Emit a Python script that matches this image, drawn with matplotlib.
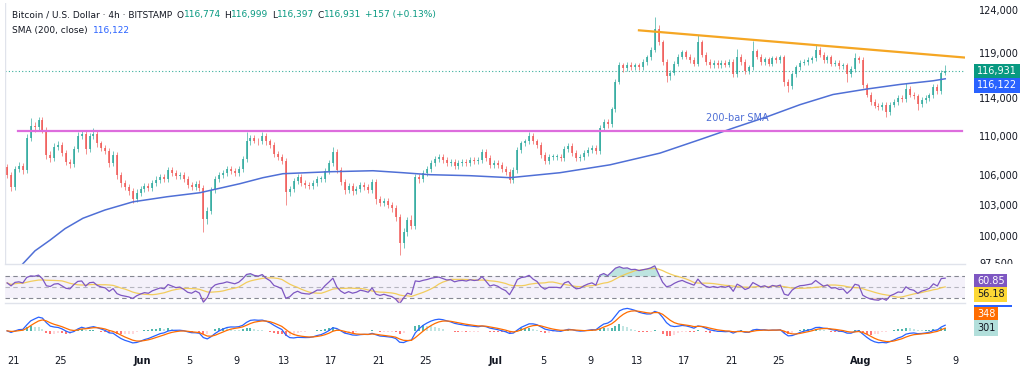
import numpy as np
import pandas as pd
import matplotlib
matplotlib.use("Agg")
import matplotlib.pyplot as plt
from matplotlib.transforms import Bbox, TransformedBbox
from matplotlib.patches import Rectangle

# ---------------- data ----------------
# 8-hour candles; time in days since 2025-05-20 00:00 (first bar May 20 12:00)
first_bar_day = 0.5
bar_days = 1 / 3
first_open = 106.8  # thousand USD

close = [
    106.0, 104.8, 106.6, 106.9, 106.5, 109.8, 111.0, 110.9, 111.7, 110.6,
    108.0, 107.7, 108.8, 109.0, 108.2, 107.3, 107.1, 108.6, 110.0, 110.2,
    108.6, 110.0, 110.2, 109.2, 108.7, 108.4, 107.2, 108.0, 106.0, 105.2,
    104.8, 104.4, 103.6, 104.2, 104.6, 104.9, 104.7, 105.2, 105.5, 105.8,
    105.6, 106.5, 106.2, 105.9, 106.0, 105.6, 105.0, 104.8, 105.1, 104.7,
    101.6, 102.4, 104.5, 105.6, 106.0, 106.2, 106.6, 106.4, 106.2, 106.6,
    107.6, 109.4, 109.8, 109.5, 109.4, 110.0, 109.4, 109.0, 108.1, 107.8,
    107.4, 104.3, 104.6, 105.4, 105.8, 105.2, 105.0, 104.9, 105.2, 105.6,
    105.6, 106.4, 107.2, 108.3, 106.5, 105.3, 104.5, 104.9, 104.4, 104.6,
    105.0, 104.8, 104.5, 105.3, 103.6, 103.2, 103.4, 103.0, 102.7, 101.8,
    99.3, 100.4, 101.5, 101.0, 105.8, 105.6, 106.2, 106.6, 107.2, 107.6,
    107.8, 107.5, 107.2, 107.3, 106.9, 107.2, 107.3, 107.2, 107.5, 107.4,
    107.5, 108.3, 107.7, 107.0, 107.2, 107.0, 106.6, 106.3, 105.5, 106.5,
    108.5, 109.2, 109.4, 110.0, 109.4, 109.0, 108.0, 107.4, 107.8, 107.8,
    107.8, 107.7, 108.6, 108.9, 108.2, 107.7, 107.8, 108.2, 108.5, 108.7,
    108.4, 110.8, 111.5, 111.2, 112.8, 115.8, 117.6, 117.3, 117.7, 117.4,
    117.6, 117.4, 118.0, 118.5, 119.4, 121.8, 120.2, 118.0, 116.4, 116.8,
    117.8, 118.6, 119.1, 118.6, 118.2, 117.8, 120.2, 118.8, 118.0, 117.6,
    117.9, 117.6, 117.9, 117.7, 118.0, 116.6, 118.6, 118.0, 117.0, 117.4,
    119.2, 118.6, 118.0, 118.3, 117.8, 118.4, 118.2, 118.5, 115.8, 115.3,
    116.6, 117.4, 117.9, 118.0, 118.2, 118.4, 119.4, 118.8, 118.2, 118.5,
    117.8, 117.9, 117.5, 117.6, 116.6, 117.2, 118.4, 118.2, 115.4, 114.4,
    113.6, 113.2, 113.0, 113.3, 112.5, 113.3, 113.6, 114.0, 113.9, 115.0,
    114.4, 114.2, 113.4, 113.8, 114.0, 114.3, 115.2, 114.8, 116.8, 116.931,
]

wick_up = [
    0.3, 0.3, 0.3, 0.4, 0.3, 0.4, 0.9, 0.4, 0.3, 0.3,
    0.3, 0.4, 0.4, 0.4, 0.3, 0.3, 0.3, 0.3, 0.4, 0.3,
    0.3, 0.3, 0.6, 0.3, 0.3, 0.3, 0.3, 0.4, 0.3, 0.3,
    0.3, 0.3, 0.3, 0.4, 0.3, 0.3, 0.3, 0.3, 0.4, 0.3,
    0.3, 0.3, 0.3, 0.3, 0.3, 0.3, 0.3, 0.3, 0.3, 0.4,
    0.3, 0.4, 0.3, 0.3, 0.3, 0.3, 0.3, 0.3, 0.3, 0.3,
    0.3, 1.0, 0.3, 0.3, 0.3, 0.4, 0.3, 0.3, 0.3, 0.3,
    0.3, 0.3, 0.3, 0.3, 0.3, 0.3, 0.3, 0.3, 0.3, 0.3,
    0.3, 0.3, 0.3, 0.5, 0.3, 0.3, 0.3, 0.3, 0.3, 0.3,
    0.3, 0.3, 0.3, 0.3, 0.3, 0.3, 0.3, 0.3, 0.3, 0.3,
    0.3, 0.4, 0.3, 0.5, 0.3, 0.3, 0.3, 0.3, 0.3, 0.3,
    0.3, 0.3, 0.3, 0.3, 0.3, 0.3, 0.3, 0.3, 0.3, 0.3,
    0.3, 0.3, 0.3, 0.3, 0.3, 0.3, 0.3, 0.3, 0.3, 0.3,
    0.3, 0.3, 0.3, 0.4, 0.3, 0.3, 0.3, 0.3, 0.3, 0.3,
    0.3, 0.3, 0.3, 0.3, 0.3, 0.3, 0.3, 0.3, 0.3, 0.3,
    0.3, 0.3, 0.3, 0.3, 0.3, 0.3, 0.4, 0.3, 0.3, 0.3,
    0.3, 0.3, 0.3, 0.3, 0.3, 1.4, 0.4, 0.3, 0.3, 0.3,
    0.3, 0.3, 0.3, 0.3, 0.3, 0.3, 0.9, 0.3, 0.3, 0.3,
    0.3, 0.3, 0.3, 0.3, 0.3, 0.3, 0.9, 0.3, 0.3, 0.3,
    1.2, 0.3, 0.3, 0.3, 0.3, 0.3, 0.3, 0.3, 0.3, 0.3,
    0.3, 0.3, 0.3, 0.3, 0.3, 0.3, 0.5, 0.3, 0.3, 0.3,
    0.3, 0.3, 0.3, 0.3, 0.3, 0.3, 0.6, 0.3, 0.3, 0.3,
    0.3, 0.3, 0.3, 0.3, 0.3, 0.3, 0.3, 0.3, 0.3, 0.7,
    0.3, 0.3, 0.3, 0.3, 0.3, 0.3, 0.3, 0.3, 0.3, 0.7,
]

wick_dn = [
    0.3, 0.4, 0.3, 0.3, 0.4, 0.3, 0.3, 0.5, 0.3, 0.3,
    0.4, 0.4, 0.3, 0.3, 0.3, 0.3, 0.4, 0.3, 0.3, 0.3,
    0.5, 0.3, 0.3, 0.4, 0.3, 0.3, 0.4, 0.3, 0.4, 0.4,
    0.3, 0.4, 0.4, 0.3, 0.3, 0.3, 0.3, 0.3, 0.3, 0.3,
    0.3, 0.3, 0.3, 0.3, 0.3, 0.3, 0.3, 0.3, 0.3, 0.3,
    1.2, 0.5, 0.3, 0.3, 0.3, 0.3, 0.3, 0.3, 0.3, 0.3,
    0.3, 0.3, 0.4, 0.3, 0.4, 0.3, 0.4, 0.3, 0.3, 0.3,
    0.3, 1.3, 0.4, 0.3, 0.3, 0.3, 0.3, 0.3, 0.3, 0.3,
    0.3, 0.3, 0.3, 0.3, 0.3, 0.3, 0.4, 0.3, 0.4, 0.3,
    0.3, 0.3, 0.3, 0.3, 0.5, 0.3, 0.3, 0.3, 0.4, 0.4,
    1.1, 0.4, 0.4, 0.3, 0.3, 0.4, 0.3, 0.3, 0.3, 0.3,
    0.3, 0.3, 0.3, 0.3, 0.3, 0.3, 0.3, 0.3, 0.3, 0.3,
    0.3, 0.3, 0.3, 0.3, 0.3, 0.3, 0.3, 0.3, 0.3, 0.3,
    0.3, 0.3, 0.3, 0.3, 0.3, 0.3, 0.3, 0.3, 0.3, 0.3,
    0.3, 0.3, 0.3, 0.3, 0.3, 0.3, 0.3, 0.3, 0.3, 0.3,
    0.3, 0.3, 0.3, 0.4, 0.3, 0.3, 0.3, 0.4, 0.3, 0.3,
    0.3, 0.3, 0.3, 0.3, 0.3, 0.3, 0.3, 0.4, 0.6, 0.4,
    0.3, 0.3, 0.3, 0.3, 0.3, 0.3, 0.3, 0.3, 0.3, 0.3,
    0.3, 0.3, 0.3, 0.3, 0.3, 0.3, 0.3, 0.3, 0.3, 0.3,
    0.3, 0.3, 0.3, 0.3, 0.3, 0.3, 0.3, 0.3, 0.5, 0.6,
    0.3, 0.3, 0.3, 0.3, 0.3, 0.3, 0.3, 0.3, 0.3, 0.3,
    0.3, 0.3, 0.3, 0.3, 0.8, 0.3, 0.3, 0.3, 0.3, 0.3,
    0.3, 0.3, 0.3, 0.3, 0.5, 0.3, 0.3, 0.3, 0.3, 0.3,
    0.3, 0.3, 0.7, 0.3, 0.3, 0.3, 0.3, 0.3, 0.3, 0.3,
]

# 200-bar SMA (day, thousand USD)
sma_day = [0.49, 1.76, 2.87, 4.14, 5.42, 6.94, 8.81, 11.19, 14.08, 16.88, 20.28,
           22.23, 23.93, 27.92, 31.57, 34.12, 36.41, 39.81, 43.21, 47.45, 51.70,
           55.95, 59.34, 62.15, 65.03, 67.84, 70.64, 73.53, 76.33, 79.13, 80.17]
sma_val = [96.1, 97.3, 98.6, 99.6, 100.7, 101.7, 102.5, 103.3, 103.8, 104.2, 105.1,
           105.7, 106.1, 106.3, 106.4, 106.2, 106.0, 105.9, 105.7, 106.2, 107.0,
           108.2, 109.6, 110.8, 112.0, 113.3, 114.4, 115.0, 115.5, 115.9, 116.122]

support_level = 110.5
support_days = [1.42, 81.6]
resist_days = [54.16, 81.76]
resist_vals = [121.6, 118.5]

price_ticks = [97500, 100000, 103000, 106000, 110000, 114000, 119000, 124000]
x_tick_days = [1, 5, 12, 16, 20, 24, 28, 32, 36, 42, 46, 50, 54, 58, 62, 66, 73, 77, 81]
x_tick_labels = ['21', '25', 'Jun', '5', '9', '13', '17', '21', '25', 'Jul',
                 '5', '9', '13', '17', '21', '25', 'Aug', '5', '9']
month_labels = ['Jun', 'Jul', 'Aug']

header_title = "Bitcoin / U.S. Dollar · 4h · BITSTAMP"
ohlc_text = [("O", "116,774"), ("H", "116,999"), ("L", "116,397"), ("C", "116,931")]
change_text = "+157 (+0.13%)"
last_price = 116931
sma_last = 116122
rsi_last, rsi_ma_last = 60.85, 56.18
macd_last, signal_last, hist_last = 648, 348, 301

# ---------------- computations ----------------
c = np.array(close) * 1000.0
o = np.concatenate([[first_open * 1000.0], c[:-1]])
hi = np.maximum(o, c) + np.array(wick_up) * 1000.0
lo = np.minimum(o, c) - np.array(wick_dn) * 1000.0
n = len(c)
t = first_bar_day + bar_days * np.arange(n)

def wilder_rsi(x, p):
    d = np.diff(x)
    up = np.where(d > 0, d, 0.0)
    dn = np.where(d < 0, -d, 0.0)
    ag = np.empty(len(x)); al = np.empty(len(x))
    ag[0] = up[:p].mean(); al[0] = dn[:p].mean()
    for i in range(1, len(x)):
        ag[i] = (ag[i - 1] * (p - 1) + up[i - 1]) / p
        al[i] = (al[i - 1] * (p - 1) + dn[i - 1]) / p
    return 100 - 100 / (1 + ag / np.maximum(al, 1e-9))

rsi = wilder_rsi(c, 10)
rsi_ma = pd.Series(rsi).rolling(10, min_periods=1).mean().values
cs = pd.Series(c)
macd = (cs.ewm(span=6, adjust=False).mean() - cs.ewm(span=13, adjust=False).mean()).values
sig = pd.Series(macd).ewm(span=4.5, adjust=False).mean().values
hist = macd - sig

# ---------------- figure ----------------
W, H = 1024, 376
fig = plt.figure(figsize=(W / 100, H / 100), dpi=100, facecolor='white')
plt.rcParams['font.family'] = ['DejaVu Sans']

def px_axes(top, bottom, left=5, right=965):
    return fig.add_axes([left / W, 1 - bottom / H, (right - left) / W, (bottom - top) / H])

ax = px_axes(3, 264)
ax_r = px_axes(264, 303)
ax_m = px_axes(303, 348)
xlim = (0.3206, 81.85)

TXT = '#131722'
GREEN = '#089981'
up_col, dn_col = '#26a69a', '#ef5350'

# candles
cols = np.where(c >= o, up_col, dn_col)
ax.vlines(t, lo, hi, colors=cols, lw=0.6, alpha=0.75, zorder=2)
body_bottom = np.minimum(o, c)
body_h = np.maximum(np.abs(c - o), 60)
ax.bar(t, body_h, bottom=body_bottom, width=0.17, color=cols, alpha=0.75, zorder=3, linewidth=0)

# SMA
ax.plot(sma_day, np.array(sma_val) * 1000, color='#4f6fd6', lw=1.1, zorder=4)
ax.text(59.85, 111900, "200-bar SMA", color='#4f6fd6', fontsize=7, ha='left', va='center')

# support / resistance
ax.plot(support_days, [support_level * 1000] * 2, color='#dd6ddd', lw=1.6, zorder=4)
ax.plot(resist_days, np.array(resist_vals) * 1000, color='#f5a623', lw=1.6, zorder=4)

# last price dotted line
ax.axhline(last_price, color=GREEN, lw=0.8, ls=(0, (1, 2)), zorder=1, alpha=0.8)

ax.set_yscale('log')
ax.set_ylim(97370, 124800)
ax.set_xlim(*xlim)
ax.yaxis.tick_right()
ax.set_yticks(price_ticks)
ax.set_yticklabels([f"{v:,}" for v in price_ticks])
ax.yaxis.set_minor_locator(matplotlib.ticker.NullLocator())
ax.tick_params(axis='y', length=0, pad=10, labelsize=7, labelcolor=TXT)
ax.set_xticks([])
main_clip = TransformedBbox(Bbox([[0, 1 - 264 / H], [1, 1]]), fig.transFigure)
for lab in ax.get_yticklabels():
    lab.set_clip_box(main_clip)
    lab.set_clip_on(True)

# RSI
ax_r.axhspan(30, 70, color='#7e57c2', alpha=0.08, lw=0)
for lvl, a in [(70, 0.9), (50, 0.5), (30, 0.9)]:
    ax_r.axhline(lvl, color='#787b86', lw=0.8, ls=(0, (4, 3)), alpha=a)
ax_r.fill_between(t, 70, rsi, where=rsi > 70, interpolate=True, color='#26a69a', alpha=0.3, lw=0)
ax_r.fill_between(t, 30, rsi, where=rsi < 30, interpolate=True, color='#ef5350', alpha=0.3, lw=0)
ax_r.plot(t, rsi_ma, color='#f2c94c', lw=0.9, alpha=0.9)
ax_r.plot(t, rsi, color='#7e57c2', lw=0.9)
ax_r.set_ylim(20.5, 93)
ax_r.set_xlim(*xlim)
ax_r.set_xticks([]); ax_r.set_yticks([])

# MACD
pc = np.concatenate([[hist[0]], hist[:-1]])
hcols = np.where(hist >= 0, np.where(hist >= pc, '#26a69a', '#b2dfdb'),
                 np.where(hist < pc, '#ff5252', '#ffcdd2'))
ax_m.bar(t, hist, width=0.17, color=hcols, lw=0, alpha=0.8)
ax_m.plot(t, macd, color='#2962ff', lw=0.9)
ax_m.plot(t, sig, color='#ff6d00', lw=0.9)
ax_m.set_ylim(-1850, 3000)
ax_m.set_xlim(*xlim)
ax_m.set_yticks([])
ax_m.set_xticks(x_tick_days)
ax_m.set_xticklabels(x_tick_labels)
ax_m.tick_params(axis='x', length=0, pad=6, labelsize=7, labelcolor=TXT)
for lab in ax_m.get_xticklabels():
    if lab.get_text() in month_labels:
        lab.set_fontweight('bold')

for a in (ax, ax_r, ax_m):
    for s in a.spines.values():
        s.set_visible(False)
for a in (ax_r, ax_m):
    a.spines['top'].set_visible(True)
    a.spines['top'].set_color('#e0e3eb')
    a.spines['top'].set_linewidth(1.0)
ax.axvline(xlim[0], color='#e0e3eb', lw=1)

# chained coloured text
def chain(x_px, y_px, pieces, fs):
    first = ax.text(x_px / W, 1 - y_px / H, pieces[0][0], color=pieces[0][1], fontsize=fs,
                    ha='left', va='center', transform=fig.transFigure)
    prev = first
    for s, col, gap in pieces[1:]:
        prev = ax.annotate(s, xy=(1, 0.5), xycoords=prev, xytext=(gap, 0),
                           textcoords='offset points', ha='left', va='center',
                           color=col, fontsize=fs, annotation_clip=False)

hdr = [(header_title, TXT)]
for i, (k, v) in enumerate(ohlc_text):
    hdr.append((k, TXT, 3.0 if i == 0 else 2.5))
    hdr.append((v, GREEN, 0.2))
hdr.append((change_text, GREEN, 2.5))
chain(12, 15, hdr, 6.5)
chain(12, 30, [("SMA (200, close)", TXT), (f"{sma_last:,}", '#2962ff', 3.5)], 6.5)
chain(12, 277, [("RSI (14, close)", TXT), (f"{rsi_last:.2f}", '#7e57c2', 3.5),
                (f"{rsi_ma_last:.2f}", '#f0c419', 3.5)], 6.5)
chain(12, 316, [("MACD (12, 26, close)", TXT), (f"{hist_last}", '#8fd0c6', 3.5),
                (f"{macd_last}", '#2962ff', 3.5), (f"{signal_last}", '#ff6d00', 3.5)], 6.5)

# right-hand value boxes
def vbox(a, y, s, fc, tc, dy_px=0):
    return a.annotate(s, xy=(1.0125, y), xycoords=('axes fraction', 'data'),
                      xytext=(0, dy_px * 0.72), textcoords='offset points',
                      ha='left', va='center', fontsize=7, color=tc, annotation_clip=False,
                      bbox=dict(boxstyle='square,pad=0.28', fc=fc, ec='none'))

vbox(ax, last_price, f"{last_price:,}", GREEN, 'white')
vbox(ax, last_price, f"{sma_last:,}", '#2962ff', 'white', dy_px=-14)
vbox(ax_r, rsi_last, f"{rsi_last:.2f}", '#7e57c2', 'white')
vbox(ax_r, rsi_last, f"{rsi_ma_last:.2f}", '#fdd835', TXT, dy_px=-13)
# MACD-line value box is hidden under the pane edge: only its lower sliver shows
fig.add_artist(Rectangle((974 / W, 1 - 307 / H), 38 / W, 2.5 / H,
                         transform=fig.transFigure, fc='#2962ff', ec='none'))
vbox(ax_m, hist_last, f"{signal_last}", '#ff6d00', 'white', dy_px=14)
vbox(ax_m, hist_last, f"{hist_last}", '#b2dfdb', TXT)

fig.savefig('out.png', dpi=100, facecolor='white')
